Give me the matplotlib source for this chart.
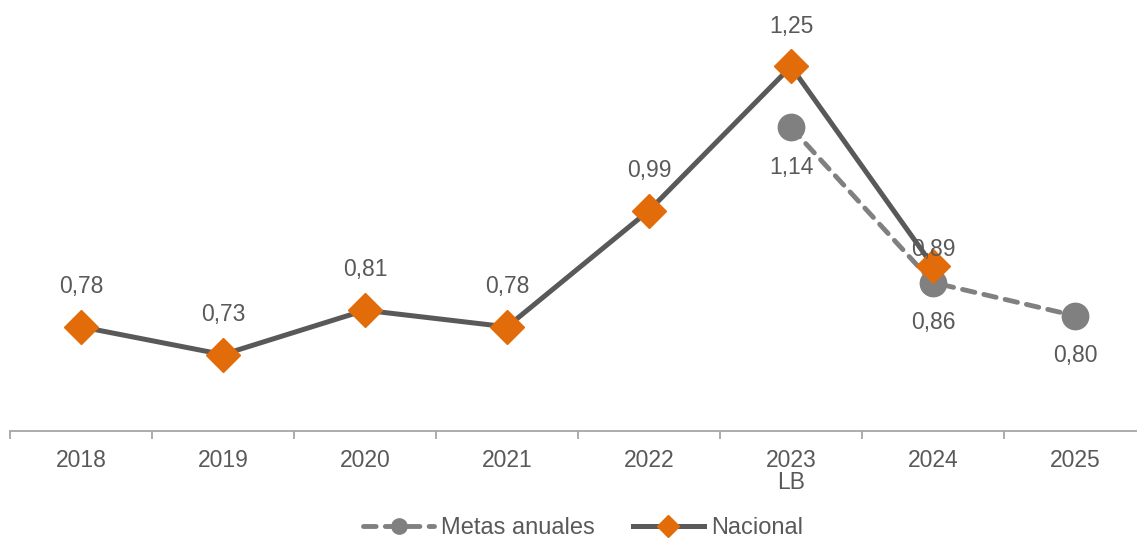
""" Nacional vs metas anuales """

import matplotlib.pyplot as plt

years = ['2018', '2019', '2020', '2021', '2022', '2023\nLB', '2024', '2025']
nacional = [0.78, 0.73, 0.81, 0.78, 0.99, 1.25, 0.89]
metas_idx = [5, 6, 7]
metas = [1.14, 0.86, 0.80]

# label offsets in points (style, not data)
nacional_offsets = [29, 29, 29, 29, 29, 29, 12]
metas_offsets = [-29, -28.5, -28.5]

ORANGE = '#E36C0A'
DARK = '#595959'
GRAY = '#808080'
TEXT = '#595959'


def fmt(v):
    return f'{v:.2f}'.replace('.', ',')


def main():
    plt.rcParams['font.family'] = ['Liberation Sans', 'DejaVu Sans']
    fig = plt.figure(figsize=(11.37, 5.38), dpi=100)
    ax = fig.add_axes([10 / 1137, 107 / 538, 1136 / 1137, 431 / 538])

    ax.plot(metas_idx, metas, color=GRAY, lw=3.5, dashes=(2.6, 1.9),
            dash_capstyle='round', marker='o', markersize=19,
            markerfacecolor=GRAY, markeredgecolor=GRAY, label='Metas anuales')
    ax.plot(range(len(nacional)), nacional, color=DARK, lw=3.6,
            marker='D', markersize=17.5, markerfacecolor=ORANGE,
            markeredgecolor=ORANGE, label='Nacional')

    for i, v in enumerate(nacional):
        ax.annotate(fmt(v), (i, v), xytext=(0, nacional_offsets[i]),
                    textcoords='offset points', ha='center', va='center',
                    fontsize=16.5, color=TEXT)
    for k, (i, v) in enumerate(zip(metas_idx, metas)):
        ax.annotate(fmt(v), (i, v), xytext=(0, metas_offsets[k]),
                    textcoords='offset points', ha='center', va='center',
                    fontsize=16.5, color=TEXT)

    ax.set_xlim(-0.5, len(years) - 0.5)
    ax.set_ylim(0.592, 1.37)

    for s in ['top', 'right', 'left']:
        ax.spines[s].set_visible(False)
    ax.spines['bottom'].set_color('#A6A6A6')
    ax.spines['bottom'].set_linewidth(1.3)
    ax.set_yticks([])

    ax.set_xticks(range(len(years)))
    ax.set_xticklabels(years, fontsize=16.5, color=TEXT, linespacing=0.95)
    ax.tick_params(axis='x', which='major', length=0, pad=13)
    ax.set_xticks([i - 0.5 for i in range(len(years) + 1)], minor=True)
    ax.tick_params(axis='x', which='minor', length=6, width=1.3,
                   color='#A6A6A6')

    leg = fig.legend(loc='center', bbox_to_anchor=(583 / 1137, 1 - 528 / 538),
                     ncol=2, frameon=False, fontsize=17, handlelength=3.0,
                     columnspacing=1.6, handletextpad=0.3)
    for t in leg.get_texts():
        t.set_color(TEXT)
    for h in leg.legend_handles:
        h.set_markersize(11)

    fig.savefig('out.png', dpi=100)


if __name__ == '__main__':
    main()
